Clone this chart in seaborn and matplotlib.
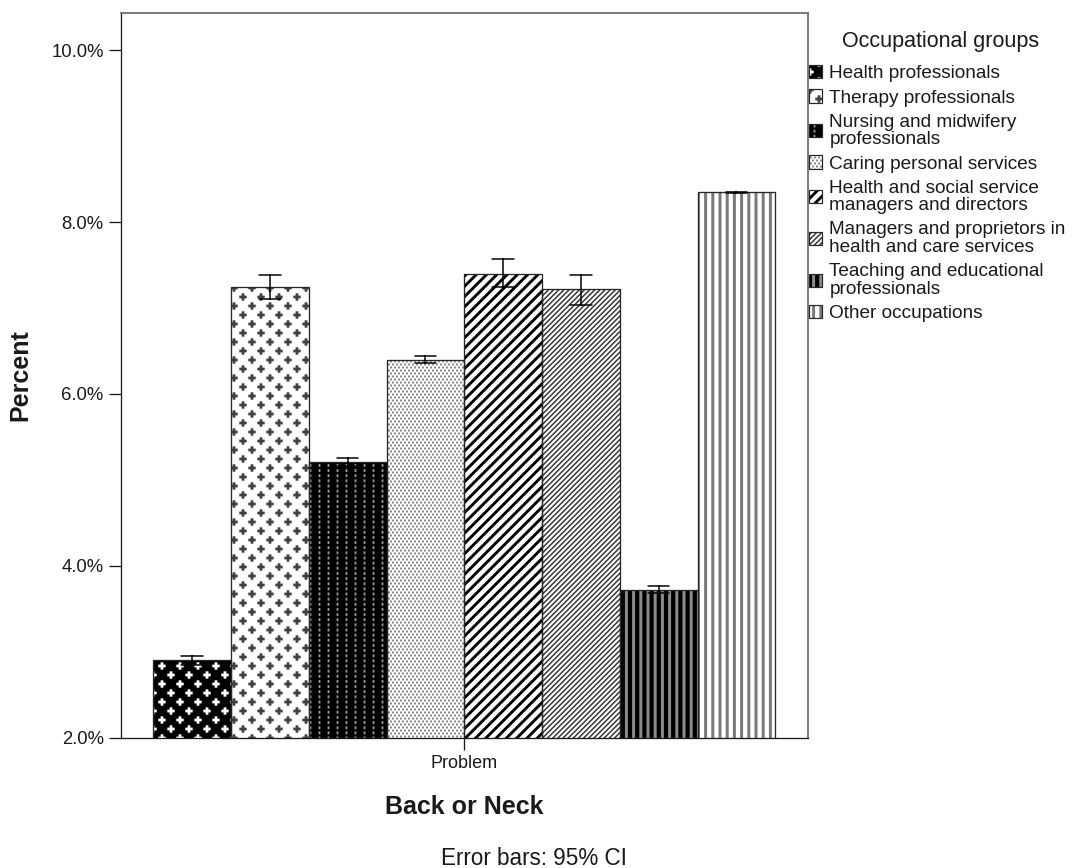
import numpy as np
import pandas as pd
import matplotlib
matplotlib.use("Agg")
import matplotlib.pyplot as plt
from matplotlib import hatch as mhatch
from matplotlib.path import Path
from matplotlib.patches import Patch, Rectangle
import seaborn as sns

# ---------------------------------------------------------------- data
response = ["Problem"]
groups = [
    "Health professionals",
    "Therapy professionals",
    "Nursing and midwifery\nprofessionals",
    "Caring personal services",
    "Health and social service\nmanagers and directors",
    "Managers and proprietors in\nhealth and care services",
    "Teaching and educational\nprofessionals",
    "Other occupations",
]
percent = [2.90, 7.25, 5.21, 6.40, 7.40, 7.22, 3.72, 8.345]
ci_low = [2.85, 7.11, 5.16, 6.355, 7.24, 7.04, 3.68, 8.335]
ci_high = [2.95, 7.39, 5.26, 6.445, 7.575, 7.39, 3.76, 8.355]
y_ticks = [2.0, 4.0, 6.0, 8.0, 10.0]

# fill colour, hatch code, hatch colour for each occupational group
styles = [
    ("black", "*", "white"),
    ("white", "*", "#404040"),
    ("black", ".", "#999999"),
    ("white", "o", "#8a8a8a"),
    ("white", "/", "black"),
    ("white", "//", "#303030"),
    ("black", "|", "#8c8c8c"),
    ("white", "|", "#7a7a7a"),
]

DPI = 72          # one hatch tile = one inch = DPI pixels
W, H = 1079, 868


def _px(v):
    return v / DPI


# ---------------------------------------------------------------- monochrome fill patterns
class _PolygonHatch(mhatch.HatchPatternBase):
    """Hatch built from filled polygons inside the unit tile."""
    char = ""

    def __init__(self, hatch, density):
        count = hatch.count(self.char) if hatch else 0
        self.polys = self.polygons(count) if count else []
        self.num_vertices = sum(len(p) + 1 for p in self.polys)

    def polygons(self, count):
        return []

    def set_vertices_and_codes(self, vertices, codes):
        i = 0
        for poly in self.polys:
            n = len(poly)
            vertices[i:i + n] = poly
            vertices[i + n] = poly[0]
            codes[i] = Path.MOVETO
            codes[i + 1:i + n] = Path.LINETO
            codes[i + n] = Path.CLOSEPOLY
            i += n + 1


class PlusLattice(_PolygonHatch):
    char = "*"

    def polygons(self, count):
        rows = 8 * count
        per_row = rows // 2
        a, b = _px(1.4), _px(3.7)
        plus = np.array([(-a, b), (a, b), (a, a), (b, a), (b, -a), (a, -a),
                         (a, -b), (-a, -b), (-a, -a), (-b, -a), (-b, a), (-a, a)])
        out = []
        for r in range(rows + 1):
            y = r / rows
            if r % 2 == 0:
                xs = np.arange(per_row + 1) / per_row
            else:
                xs = (np.arange(per_row) + 0.5) / per_row
            out.extend(plus + (x, y) for x in xs)
        return out


class DotGrid(_PolygonHatch):
    char = "."

    def polygons(self, count):
        cols, rows = 8 * count, 14 * count
        w, h = _px(0.9), _px(1.5)
        rect = np.array([(-w, -h), (w, -h), (w, h), (-w, h)])
        return [rect + ((c + 0.5) / cols, (r + 0.5) / rows)
                for r in range(rows) for c in range(cols)]


class DotChecker(_PolygonHatch):
    char = "o"

    def polygons(self, count):
        cols, rows = 18 * count, 24 * count
        s = _px(1.0)
        sq = np.array([(-s, -s), (s, -s), (s, s), (-s, s)])
        return [sq + ((c + 0.25 + 0.5 * (r % 2)) / cols, (r + 0.5) / rows)
                for r in range(rows) for c in range(cols)]


class DiagStripes(_PolygonHatch):
    char = "/"

    def polygons(self, count):
        n = 7 * count
        h = 0.2 / n
        return [np.array([(c - h, 0), (c + h, 0), (c + 1 + h, 1), (c + 1 - h, 1)])
                for c in np.arange(-n, n + 1) / n]


class VertStripes(_PolygonHatch):
    char = "|"

    def polygons(self, count):
        n = 10 * count
        h = _px(1.5)
        return [np.array([(x - h, 0), (x + h, 0), (x + h, 1), (x - h, 1)])
                for x in np.arange(n + 1) / n]


mhatch._hatch_types[:] = [PlusLattice, DotGrid, DotChecker, DiagStripes, VertStripes]

# ---------------------------------------------------------------- style
sns.set_style("ticks")
plt.rcParams["font.family"] = ["Liberation Sans", "DejaVu Sans"]
plt.rcParams["hatch.linewidth"] = 0.0
plt.rcParams["text.color"] = "#1a1a1a"
plt.rcParams["axes.labelcolor"] = "#1a1a1a"

fig = plt.figure(figsize=(W / DPI, H / DPI), dpi=DPI)
ax = fig.add_axes([120.7 / W, 1 - 737.7 / H, (808 - 120.7) / W, (737.7 - 13.3) / H])

# long table: lower CI bound, estimate, upper CI bound for each group
rows = []
for g, lo, mid, hi in zip(groups, ci_low, percent, ci_high):
    for v in (lo, mid, hi):
        rows.append({"Back or Neck": response[0], "Occupational groups": g, "Percent": v})
df = pd.DataFrame(rows)

sns.barplot(
    data=df, x="Back or Neck", y="Percent", hue="Occupational groups",
    hue_order=groups, palette=[s[0] for s in styles], saturation=1,
    estimator="median", errorbar=lambda v: (v.min(), v.max()),
    width=0.905, capsize=0.25,
    err_kws={"color": "black", "linewidth": 1.5},
    legend=False, ax=ax,
)

bars = sorted([p for p in ax.patches if isinstance(p, Rectangle)], key=lambda p: p.get_x())
for p, (face, hatch, hcol) in zip(bars, styles):
    p.set_facecolor(face)
    p.set_edgecolor(hcol)
    p.set_linewidth(0)
    p.set_hatch(hatch)
    ax.add_patch(Rectangle((p.get_x(), p.get_y()), p.get_width(), p.get_height(),
                           fill=False, edgecolor="#262626", linewidth=1.3, zorder=1.5))

ax.set_xlim(-0.5, 0.5)
ax.set_ylim(2.0, 10.43)
ax.set_yticks(y_ticks)
ax.set_yticklabels([f"{t:.1f}%" for t in y_ticks])
ax.tick_params(axis="both", length=12, width=1.3, direction="out", pad=5,
               labelsize=18.5, colors="#1a1a1a")
ax.tick_params(axis="x", labelsize=18)

for s in ("left", "bottom"):
    ax.spines[s].set_color("#1a1a1a")
    ax.spines[s].set_linewidth(1.3)
for s in ("top", "right"):
    ax.spines[s].set_color("#707070")
    ax.spines[s].set_linewidth(1.8)

ax.set_xlabel("Back or Neck", fontsize=25, fontweight="bold")
ax.xaxis.set_label_coords(0.5, -0.079)
ax.set_ylabel("Percent", fontsize=25, fontweight="bold")
ax.yaxis.set_label_coords(-0.128, 0.5)

fig.text(534 / W, 3 / H, "Error bars: 95% CI", fontsize=22.5, ha="center", va="baseline")

# legend
fig.text(941 / W, 1 - 46.7 / H, "Occupational groups", fontsize=21.5,
         ha="center", va="baseline")
handles = [
    (Patch(facecolor=f, edgecolor=hc, hatch=h, linewidth=0),
     Patch(facecolor="none", edgecolor="#262626", linewidth=1.2))
    for f, h, hc in styles
]
leg = fig.legend(handles, groups, loc="upper left", bbox_to_anchor=(809 / W, 1 - 65 / H),
                 frameon=False, fontsize=19, handlelength=0.7, handleheight=0.7,
                 handletextpad=0.37, labelspacing=0.37, borderpad=0, borderaxespad=0)
for t in leg.get_texts():
    t.set_linespacing(1.05)

fig.savefig("out.png", dpi=DPI, facecolor="white")
